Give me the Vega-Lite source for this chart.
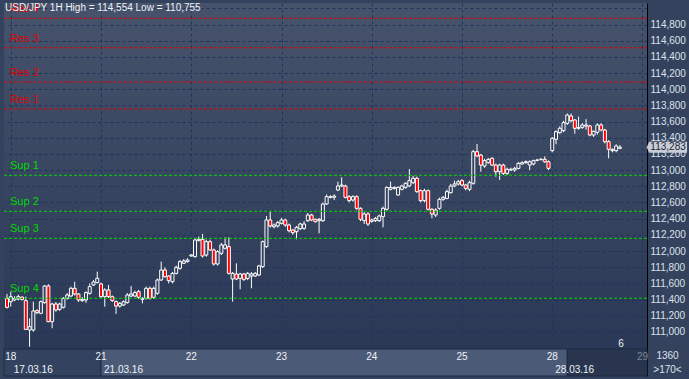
{
  "$schema": "https://vega.github.io/schema/vega-lite/v6.json",
  "background": "#34425e",
  "padding": {"left": 3, "top": 3, "right": 3, "bottom": 3},
  "autosize": {"type": "pad"},
  "spacing": 0,
  "bounds": "flush",
  "config": {
    "font": "Liberation Sans",
    "view": {"stroke": null},
    "title": {"font": "Liberation Sans"},
    "axis": {"labelOverlap": false, "labelSeparation": 0, "labelBound": false, "labelFlush": false}
  },
  "datasets": {
    "candles": [
      {"i":0,"o":111.415,"h":111.470,"l":111.290,"c":111.304},
      {"i":1,"o":111.374,"h":111.498,"l":111.312,"c":111.436},
      {"i":2,"o":111.395,"h":111.440,"l":111.380,"c":111.415},
      {"i":3,"o":111.407,"h":111.460,"l":111.390,"c":111.436},
      {"i":4,"o":111.430,"h":111.440,"l":111.390,"c":111.400},
      {"i":5,"o":111.387,"h":111.436,"l":111.024,"c":111.032},
      {"i":6,"o":111.024,"h":111.168,"l":110.818,"c":111.065},
      {"i":7,"o":111.024,"h":111.374,"l":111.003,"c":111.259},
      {"i":8,"o":111.263,"h":111.280,"l":111.220,"c":111.238},
      {"i":9,"o":111.230,"h":111.390,"l":111.220,"c":111.374},
      {"i":10,"o":111.362,"h":111.580,"l":111.350,"c":111.568},
      {"i":11,"o":111.568,"h":111.590,"l":111.120,"c":111.127},
      {"i":12,"o":111.127,"h":111.360,"l":111.045,"c":111.345},
      {"i":13,"o":111.345,"h":111.370,"l":111.250,"c":111.271},
      {"i":14,"o":111.279,"h":111.360,"l":111.260,"c":111.345},
      {"i":15,"o":111.304,"h":111.430,"l":111.290,"c":111.415},
      {"i":16,"o":111.415,"h":111.480,"l":111.400,"c":111.457},
      {"i":17,"o":111.444,"h":111.560,"l":111.430,"c":111.539},
      {"i":18,"o":111.539,"h":111.620,"l":111.450,"c":111.469},
      {"i":19,"o":111.469,"h":111.480,"l":111.370,"c":111.395},
      {"i":20,"o":111.387,"h":111.430,"l":111.370,"c":111.403},
      {"i":21,"o":111.395,"h":111.500,"l":111.360,"c":111.486},
      {"i":22,"o":111.477,"h":111.600,"l":111.460,"c":111.560},
      {"i":23,"o":111.580,"h":111.640,"l":111.570,"c":111.617},
      {"i":24,"o":111.609,"h":111.745,"l":111.600,"c":111.663},
      {"i":25,"o":111.593,"h":111.610,"l":111.420,"c":111.436},
      {"i":26,"o":111.436,"h":111.540,"l":111.312,"c":111.519},
      {"i":27,"o":111.519,"h":111.580,"l":111.420,"c":111.436},
      {"i":28,"o":111.436,"h":111.450,"l":111.370,"c":111.387},
      {"i":29,"o":111.374,"h":111.390,"l":111.222,"c":111.320},
      {"i":30,"o":111.320,"h":111.370,"l":111.300,"c":111.353},
      {"i":31,"o":111.333,"h":111.390,"l":111.320,"c":111.374},
      {"i":32,"o":111.362,"h":111.480,"l":111.350,"c":111.457},
      {"i":33,"o":111.444,"h":111.568,"l":111.430,"c":111.469},
      {"i":34,"o":111.444,"h":111.510,"l":111.430,"c":111.486},
      {"i":35,"o":111.498,"h":111.520,"l":111.410,"c":111.428},
      {"i":36,"o":111.403,"h":111.430,"l":111.353,"c":111.415},
      {"i":37,"o":111.415,"h":111.560,"l":111.400,"c":111.539},
      {"i":38,"o":111.539,"h":111.560,"l":111.400,"c":111.415},
      {"i":39,"o":111.428,"h":111.560,"l":111.410,"c":111.539},
      {"i":40,"o":111.477,"h":111.660,"l":111.460,"c":111.642},
      {"i":41,"o":111.642,"h":111.869,"l":111.630,"c":111.765},
      {"i":42,"o":111.765,"h":111.800,"l":111.670,"c":111.683},
      {"i":43,"o":111.691,"h":111.700,"l":111.600,"c":111.634},
      {"i":44,"o":111.621,"h":111.740,"l":111.600,"c":111.724},
      {"i":45,"o":111.724,"h":111.820,"l":111.710,"c":111.799},
      {"i":46,"o":111.786,"h":111.890,"l":111.770,"c":111.869},
      {"i":47,"o":111.848,"h":111.900,"l":111.840,"c":111.877},
      {"i":48,"o":111.869,"h":111.910,"l":111.860,"c":111.889},
      {"i":49,"o":111.939,"h":111.960,"l":111.930,"c":111.951},
      {"i":50,"o":111.930,"h":112.160,"l":111.920,"c":112.136},
      {"i":51,"o":112.128,"h":112.178,"l":112.120,"c":112.145},
      {"i":52,"o":112.145,"h":112.211,"l":111.920,"c":111.939},
      {"i":53,"o":111.951,"h":112.140,"l":111.930,"c":112.116},
      {"i":54,"o":112.116,"h":112.140,"l":112.000,"c":112.013},
      {"i":55,"o":112.013,"h":112.030,"l":111.820,"c":111.840},
      {"i":56,"o":111.840,"h":112.010,"l":111.820,"c":111.992},
      {"i":57,"o":111.972,"h":112.100,"l":111.950,"c":112.075},
      {"i":58,"o":112.034,"h":112.169,"l":112.020,"c":112.075},
      {"i":59,"o":112.054,"h":112.169,"l":111.710,"c":111.724},
      {"i":60,"o":111.654,"h":111.740,"l":111.374,"c":111.724},
      {"i":61,"o":111.716,"h":111.848,"l":111.640,"c":111.654},
      {"i":62,"o":111.662,"h":111.730,"l":111.527,"c":111.716},
      {"i":63,"o":111.716,"h":111.730,"l":111.630,"c":111.650},
      {"i":64,"o":111.662,"h":111.740,"l":111.640,"c":111.724},
      {"i":65,"o":111.691,"h":111.740,"l":111.539,"c":111.716},
      {"i":66,"o":111.691,"h":111.740,"l":111.680,"c":111.724},
      {"i":67,"o":111.704,"h":111.830,"l":111.690,"c":111.815},
      {"i":68,"o":111.807,"h":112.130,"l":111.790,"c":112.116},
      {"i":69,"o":112.054,"h":112.433,"l":112.040,"c":112.384},
      {"i":70,"o":112.384,"h":112.487,"l":112.290,"c":112.310},
      {"i":71,"o":112.301,"h":112.340,"l":112.280,"c":112.322},
      {"i":72,"o":112.310,"h":112.370,"l":112.290,"c":112.351},
      {"i":73,"o":112.343,"h":112.410,"l":112.330,"c":112.384},
      {"i":74,"o":112.384,"h":112.400,"l":112.300,"c":112.322},
      {"i":75,"o":112.322,"h":112.340,"l":112.230,"c":112.252},
      {"i":76,"o":112.260,"h":112.270,"l":112.200,"c":112.227},
      {"i":77,"o":112.239,"h":112.310,"l":112.145,"c":112.293},
      {"i":78,"o":112.277,"h":112.350,"l":112.260,"c":112.334},
      {"i":79,"o":112.281,"h":112.370,"l":112.260,"c":112.334},
      {"i":80,"o":112.375,"h":112.470,"l":112.360,"c":112.445},
      {"i":81,"o":112.445,"h":112.460,"l":112.370,"c":112.384},
      {"i":82,"o":112.392,"h":112.400,"l":112.350,"c":112.363},
      {"i":83,"o":112.375,"h":112.410,"l":112.219,"c":112.392},
      {"i":84,"o":112.375,"h":112.600,"l":112.360,"c":112.581},
      {"i":85,"o":112.581,"h":112.700,"l":112.570,"c":112.672},
      {"i":86,"o":112.664,"h":112.690,"l":112.650,"c":112.672},
      {"i":87,"o":112.664,"h":112.700,"l":112.630,"c":112.680},
      {"i":88,"o":112.754,"h":112.857,"l":112.740,"c":112.804},
      {"i":89,"o":112.804,"h":112.911,"l":112.790,"c":112.816},
      {"i":90,"o":112.804,"h":112.820,"l":112.650,"c":112.664},
      {"i":91,"o":112.672,"h":112.690,"l":112.600,"c":112.623},
      {"i":92,"o":112.631,"h":112.690,"l":112.610,"c":112.672},
      {"i":93,"o":112.672,"h":112.690,"l":112.510,"c":112.528},
      {"i":94,"o":112.528,"h":112.540,"l":112.370,"c":112.392},
      {"i":95,"o":112.375,"h":112.480,"l":112.334,"c":112.458},
      {"i":96,"o":112.458,"h":112.480,"l":112.310,"c":112.334},
      {"i":97,"o":112.367,"h":112.400,"l":112.350,"c":112.384},
      {"i":98,"o":112.375,"h":112.420,"l":112.360,"c":112.404},
      {"i":99,"o":112.375,"h":112.450,"l":112.360,"c":112.433},
      {"i":100,"o":112.425,"h":112.550,"l":112.293,"c":112.528},
      {"i":101,"o":112.516,"h":112.800,"l":112.500,"c":112.787},
      {"i":102,"o":112.763,"h":112.857,"l":112.750,"c":112.787},
      {"i":103,"o":112.775,"h":112.800,"l":112.760,"c":112.787},
      {"i":104,"o":112.693,"h":112.800,"l":112.680,"c":112.787},
      {"i":105,"o":112.763,"h":112.820,"l":112.750,"c":112.804},
      {"i":106,"o":112.787,"h":112.850,"l":112.770,"c":112.837},
      {"i":107,"o":112.804,"h":113.014,"l":112.790,"c":112.870},
      {"i":108,"o":112.845,"h":112.930,"l":112.830,"c":112.899},
      {"i":109,"o":112.899,"h":112.920,"l":112.720,"c":112.734},
      {"i":110,"o":112.746,"h":112.760,"l":112.600,"c":112.623},
      {"i":111,"o":112.623,"h":112.770,"l":112.600,"c":112.746},
      {"i":112,"o":112.746,"h":112.760,"l":112.500,"c":112.516},
      {"i":113,"o":112.516,"h":112.530,"l":112.404,"c":112.458},
      {"i":114,"o":112.445,"h":112.530,"l":112.420,"c":112.507},
      {"i":115,"o":112.528,"h":112.660,"l":112.510,"c":112.639},
      {"i":116,"o":112.639,"h":112.680,"l":112.620,"c":112.664},
      {"i":117,"o":112.651,"h":112.760,"l":112.640,"c":112.734},
      {"i":118,"o":112.721,"h":112.830,"l":112.710,"c":112.804},
      {"i":119,"o":112.804,"h":112.870,"l":112.790,"c":112.829},
      {"i":120,"o":112.829,"h":112.880,"l":112.810,"c":112.857},
      {"i":121,"o":112.870,"h":112.890,"l":112.800,"c":112.816},
      {"i":122,"o":112.816,"h":112.830,"l":112.750,"c":112.775},
      {"i":123,"o":112.763,"h":112.870,"l":112.740,"c":112.845},
      {"i":124,"o":112.837,"h":113.250,"l":112.820,"c":113.228},
      {"i":125,"o":113.228,"h":113.323,"l":113.160,"c":113.175},
      {"i":126,"o":113.187,"h":113.200,"l":112.981,"c":113.063},
      {"i":127,"o":113.051,"h":113.140,"l":113.030,"c":113.117},
      {"i":128,"o":113.092,"h":113.150,"l":113.080,"c":113.133},
      {"i":129,"o":113.146,"h":113.160,"l":113.050,"c":113.063},
      {"i":130,"o":113.063,"h":113.080,"l":112.919,"c":112.981},
      {"i":131,"o":112.981,"h":113.080,"l":112.878,"c":113.063},
      {"i":132,"o":113.063,"h":113.080,"l":112.940,"c":112.960},
      {"i":133,"o":112.960,"h":113.030,"l":112.940,"c":113.010},
      {"i":134,"o":113.001,"h":113.030,"l":112.990,"c":113.010},
      {"i":135,"o":113.001,"h":113.040,"l":112.980,"c":113.022},
      {"i":136,"o":113.022,"h":113.100,"l":113.010,"c":113.084},
      {"i":137,"o":113.076,"h":113.110,"l":113.070,"c":113.092},
      {"i":138,"o":113.092,"h":113.120,"l":113.080,"c":113.104},
      {"i":139,"o":113.063,"h":113.120,"l":113.000,"c":113.104},
      {"i":140,"o":113.076,"h":113.130,"l":113.060,"c":113.117},
      {"i":141,"o":113.120,"h":113.140,"l":113.110,"c":113.125},
      {"i":142,"o":113.130,"h":113.150,"l":113.120,"c":113.134},
      {"i":143,"o":113.134,"h":113.170,"l":113.090,"c":113.104},
      {"i":144,"o":113.104,"h":113.120,"l":113.000,"c":113.022},
      {"i":145,"o":113.241,"h":113.410,"l":113.220,"c":113.393},
      {"i":146,"o":113.381,"h":113.490,"l":113.320,"c":113.475},
      {"i":147,"o":113.463,"h":113.540,"l":113.450,"c":113.517},
      {"i":148,"o":113.488,"h":113.610,"l":113.470,"c":113.587},
      {"i":149,"o":113.578,"h":113.700,"l":113.560,"c":113.681},
      {"i":150,"o":113.669,"h":113.700,"l":113.590,"c":113.611},
      {"i":151,"o":113.620,"h":113.630,"l":113.450,"c":113.517},
      {"i":152,"o":113.517,"h":113.661,"l":113.500,"c":113.529},
      {"i":153,"o":113.529,"h":113.580,"l":113.510,"c":113.558},
      {"i":154,"o":113.545,"h":113.630,"l":113.500,"c":113.558},
      {"i":155,"o":113.545,"h":113.560,"l":113.420,"c":113.434},
      {"i":156,"o":113.434,"h":113.490,"l":113.410,"c":113.480},
      {"i":157,"o":113.468,"h":113.580,"l":113.440,"c":113.558},
      {"i":158,"o":113.558,"h":113.580,"l":113.480,"c":113.496},
      {"i":159,"o":113.496,"h":113.510,"l":113.330,"c":113.352},
      {"i":160,"o":113.352,"h":113.370,"l":113.146,"c":113.257},
      {"i":161,"o":113.241,"h":113.270,"l":113.220,"c":113.257},
      {"i":162,"o":113.241,"h":113.320,"l":113.220,"c":113.298},
      {"i":163,"o":113.269,"h":113.310,"l":113.260,"c":113.283}
    ],
    "levels": [
      {"name":"Res 4","price":114.877,"kind":"res"},
      {"name":"Res 3","price":114.513,"kind":"res"},
      {"name":"Res 2","price":114.089,"kind":"res"},
      {"name":"Res 1","price":113.756,"kind":"res"},
      {"name":"Sup 1","price":112.936,"kind":"sup"},
      {"name":"Sup 2","price":112.491,"kind":"sup"},
      {"name":"Sup 3","price":112.157,"kind":"sup"},
      {"name":"Sup 4","price":111.416,"kind":"sup"}
    ],
    "last": [{"price":113.283,"label":"113,283"}],
    "segs": [
      {"start":-0.8,"end":25,"part":"past"},
      {"start":25,"end":149,"part":"view"},
      {"start":149,"end":170.2,"part":"future"}
    ],
    "days": [
      {"i":1,"label":"18","row":"top"},
      {"i":25,"label":"21","row":"top"},
      {"i":49,"label":"22","row":"top"},
      {"i":73,"label":"23","row":"top"},
      {"i":97,"label":"24","row":"top"},
      {"i":121,"label":"25","row":"top"},
      {"i":145,"label":"28","row":"top"},
      {"i":169,"label":"29","row":"top"}
    ],
    "dates": [
      {"i":1,"label":"17.03.16","row":"bottom"},
      {"i":25,"label":"21.03.16","row":"bottom"},
      {"i":145,"label":"28.03.16","row":"bottom"}
    ]
  },
  "vconcat": [
    {
      "width": 643,
      "height": 346,
      "view": {
        "stroke": null,
        "fill": {"gradient": "linear", "x1": 0, "y1": 0, "x2": 0, "y2": 1,
          "stops": [{"offset": 0, "color": "#47536b"}, {"offset": 1, "color": "#2a3856"}]}
      },
      "title": {
        "text": "USD/JPY 1H High = 114,554 Low = 110,755",
        "anchor": "start",
        "frame": "group",
        "offset": -10,
        "dx": 1,
        "fontSize": 10,
        "fontWeight": "normal",
        "color": "#eef2f7"
      },
      "encoding": {
        "y": {"type": "quantitative",
          "scale": {"domain": [110.789, 115.066], "nice": false, "zero": false},
          "axis": {"orient": "right", "title": null,
            "values": [111.0, 111.2, 111.4, 111.6, 111.8, 112.0, 112.2, 112.4, 112.6, 112.8, 113.0, 113.2, 113.4, 113.6, 113.8, 114.0, 114.2, 114.4, 114.6, 114.8, 115.0],
            "labelExpr": "datum.value > 114.9 ? '' : replace(format(datum.value, '.3f'), '.', ',')",
            "labelOverlap": false,
            "labelColor": "#dde3ec", "labelFontSize": 10, "labelPadding": 3, "ticks": false,
            "grid": true, "gridColor": "#1d355e", "gridDash": [3, 3], "gridOpacity": 1,
            "domain": true, "domainColor": "#000000", "domainWidth": 1}}
      },
      "layer": [
        {
          "data": {"name": "candles"},
          "mark": {"type": "rule", "color": "#ffffff", "strokeWidth": 1},
          "encoding": {
            "x": {"field": "i", "type": "quantitative",
              "scale": {"domain": [-0.8, 170.2], "nice": false, "zero": false, "padding": 0},
              "axis": {"orient": "bottom", "values": [1, 25, 49, 73, 97, 121, 145, 169], "labels": false, "ticks": false, "title": null,
                "grid": true, "gridColor": "#1d355e", "gridDash": [3, 3], "gridOpacity": 1,
                "domain": true, "domainColor": "#000000", "domainWidth": 1}},
            "y": {"field": "l", "type": "quantitative"},
            "y2": {"field": "h"}
          }
        },
        {
          "data": {"name": "candles"},
          "mark": {"type": "bar", "size": 3, "stroke": "#ffffff", "strokeWidth": 1},
          "encoding": {
            "x": {"field": "i", "type": "quantitative"},
            "y": {"field": "o", "type": "quantitative"},
            "y2": {"field": "c"},
            "fill": {"condition": {"test": "datum.c < datum.o", "value": "#ff0000"}, "value": "#313f5b"}
          }
        },
        {
          "data": {"name": "levels"},
          "mark": {"type": "rule", "strokeWidth": 1, "strokeDash": [3, 2]},
          "encoding": {
            "y": {"field": "price", "type": "quantitative"},
            "color": {"field": "kind", "type": "nominal", "scale": {"domain": ["res", "sup"], "range": ["#e00000", "#00d800"]}, "legend": null}
          }
        },
        {
          "data": {"name": "levels"},
          "mark": {"type": "text", "align": "left", "baseline": "middle", "dy": -9, "fontSize": 11},
          "encoding": {
            "x": {"datum": 0.8},
            "y": {"field": "price", "type": "quantitative"},
            "text": {"field": "name"},
            "color": {"field": "kind", "type": "nominal", "scale": {"domain": ["res", "sup"], "range": ["#ff1010", "#10ee10"]}, "legend": null}
          }
        },
        {
          "data": {"name": "last"},
          "mark": {"type": "point", "filled": true, "opacity": 1, "size": 1444, "color": "#c9ced6", "clip": false,
            "shape": "M-1.12,0 L-1,-0.29 L1,-0.29 L1,0.29 L-1,0.29 Z"},
          "encoding": {
            "x": {"datum": 175.8},
            "y": {"field": "price", "type": "quantitative"}
          }
        },
        {
          "data": {"name": "last"},
          "mark": {"type": "text", "align": "center", "baseline": "middle", "fontSize": 10, "color": "#1c2538", "clip": false},
          "encoding": {
            "x": {"datum": 175.8},
            "y": {"field": "price", "type": "quantitative"},
            "text": {"field": "label"}
          }
        },
        {
          "data": {"values": [{"note": "6", "p": 110.85}]},
          "mark": {"type": "text", "align": "center", "baseline": "middle", "fontSize": 10, "color": "#eef2f7"},
          "encoding": {
            "x": {"datum": 163.3},
            "y": {"field": "p", "type": "quantitative"},
            "text": {"field": "note"}
          }
        }
      ]
    },
    {
      "width": 643,
      "height": 27,
      "view": {"stroke": null},
      "layer": [
        {
          "data": {"name": "segs"},
          "mark": {"type": "rect", "stroke": "#1f2a40", "strokeWidth": 1},
          "encoding": {
            "x": {"field": "start", "type": "quantitative", "scale": {"domain": [-0.8, 170.2], "nice": false, "zero": false, "padding": 0}, "axis": null},
            "x2": {"field": "end"},
            "fill": {"field": "part", "type": "nominal", "scale": {"domain": ["past", "view", "future"], "range": ["#33425f", "#4b5a76", "#29354f"]}, "legend": null}
          }
        },
        {
          "data": {"name": "days"},
          "mark": {"type": "text", "align": "center", "baseline": "middle", "dy": 1, "fontSize": 10},
          "encoding": {
            "x": {"field": "i", "type": "quantitative"},
            "y": {"field": "row", "type": "nominal",
              "scale": {"type": "point", "domain": ["top", "bottom"], "padding": 0.5},
              "axis": {"orient": "right", "title": null, "ticks": false, "grid": false,
                "labelExpr": "datum.value == 'top' ? '1360' : '>170<'",
                "labelAlign": "center", "labelPadding": 20, "labelColor": "#dde3ec", "labelFontSize": 10,
                "domain": true, "domainColor": "#000000"}},
            "text": {"field": "label"},
            "color": {"condition": {"test": "datum.label == '29'", "value": "#7d889c"}, "value": "#eef2f7"}
          }
        },
        {
          "data": {"name": "dates"},
          "mark": {"type": "text", "align": "left", "baseline": "middle", "dx": 3, "dy": 1, "fontSize": 10, "color": "#eef2f7"},
          "encoding": {
            "x": {"field": "i", "type": "quantitative"},
            "y": {"field": "row", "type": "nominal"},
            "text": {"field": "label"}
          }
        }
      ]
    }
  ]
}
